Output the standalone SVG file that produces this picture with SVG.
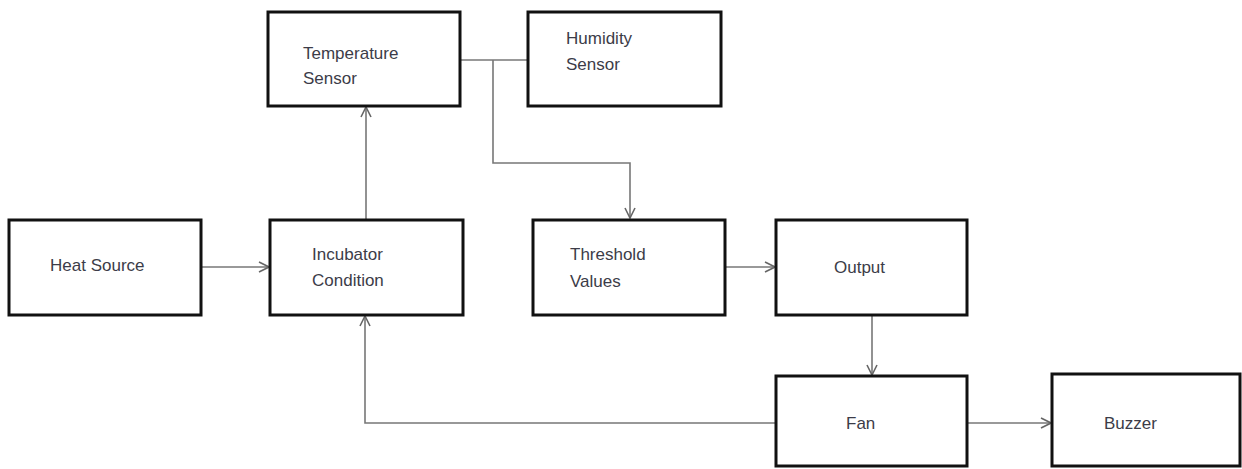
<svg xmlns="http://www.w3.org/2000/svg" width="1242" height="469" viewBox="0 0 1242 469">
<style>
.box{fill:#fff;stroke:#111;stroke-width:3}
.t{font-family:"Liberation Sans",Arial,sans-serif;font-size:17px;fill:#3c3c48}
.c{fill:none;stroke:#777;stroke-width:1.6}
</style>
<defs>
<marker id="a" viewBox="0 0 12 12" refX="11" refY="6" markerWidth="12" markerHeight="12" markerUnits="userSpaceOnUse" orient="auto">
<path d="M1,1 L11,6 L1,11" fill="none" stroke="#666" stroke-width="1.6"/>
</marker>
</defs>
<rect width="1242" height="469" fill="#fff"/>
<g id="connectors">
<path class="c" d="M201,267 H269" marker-end="url(#a)"/>
<path class="c" d="M366,220 V107" marker-end="url(#a)"/>
<path class="c" d="M460,60 H528"/>
<path class="c" d="M493,60 V163 H630 V218" marker-end="url(#a)"/>
<path class="c" d="M725,267 H775" marker-end="url(#a)"/>
<path class="c" d="M872,315 V375" marker-end="url(#a)"/>
<path class="c" d="M967,423 H1051" marker-end="url(#a)"/>
<path class="c" d="M776,423 H365 V316" marker-end="url(#a)"/>
</g>
<g id="temperature-sensor">
<rect class="box" x="268" y="12" width="192" height="94"/>
<text class="t" x="303" y="59">Temperature</text>
<text class="t" x="303" y="84">Sensor</text>
</g>
<g id="humidity-sensor">
<rect class="box" x="528" y="12" width="193" height="94"/>
<text class="t" x="566" y="44">Humidity</text>
<text class="t" x="566" y="70">Sensor</text>
</g>
<g id="heat-source">
<rect class="box" x="9" y="220" width="192" height="95"/>
<text class="t" x="50" y="271">Heat Source</text>
</g>
<g id="incubator-condition">
<rect class="box" x="270" y="220" width="193" height="95"/>
<text class="t" x="312" y="260">Incubator</text>
<text class="t" x="312" y="286">Condition</text>
</g>
<g id="threshold-values">
<rect class="box" x="533" y="220" width="192" height="95"/>
<text class="t" x="570" y="260">Threshold</text>
<text class="t" x="570" y="287">Values</text>
</g>
<g id="output">
<rect class="box" x="776" y="220" width="191" height="95"/>
<text class="t" x="834" y="273">Output</text>
</g>
<g id="fan">
<rect class="box" x="776" y="376" width="191" height="90"/>
<text class="t" x="846" y="429">Fan</text>
</g>
<g id="buzzer">
<rect class="box" x="1052" y="374" width="188" height="92"/>
<text class="t" x="1104" y="429">Buzzer</text>
</g>
</svg>
